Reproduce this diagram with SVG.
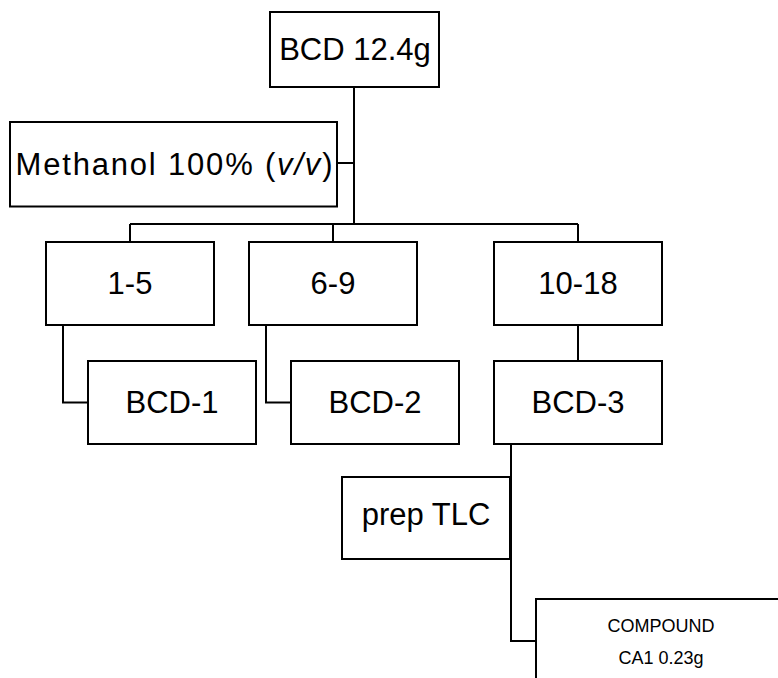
<svg xmlns="http://www.w3.org/2000/svg" width="778" height="678" viewBox="0 0 778 678">
  <style>
    .box { fill: #ffffff; stroke: #000000; stroke-width: 2; }
    .lbl { font-family: "Liberation Sans", Arial, sans-serif; font-size: 31px; fill: #000000; text-anchor: middle; }
    .small { font-family: "Liberation Sans", Arial, sans-serif; font-size: 18px; fill: #000000; text-anchor: middle; }
    .conn { fill: none; stroke: #000000; stroke-width: 2; }
  </style>
  <rect width="778" height="678" fill="#ffffff"/>
  <g id="connectors">
    <line class="conn" x1="354" y1="87" x2="354" y2="224" stroke-width="2.5"/>
    <line class="conn" x1="337" y1="163" x2="354" y2="163"/>
    <line class="conn" x1="130" y1="224" x2="578" y2="224"/>
    <line class="conn" x1="130" y1="224" x2="130" y2="242"/>
    <line class="conn" x1="333" y1="224" x2="333" y2="242"/>
    <line class="conn" x1="578" y1="224" x2="578" y2="242"/>
    <polyline class="conn" points="63,325 63,402.5 88,402.5"/>
    <polyline class="conn" points="266,325 266,402.5 291,402.5"/>
    <line class="conn" x1="578" y1="325" x2="578" y2="361"/>
    <polyline class="conn" points="511,444 511,641 536,641"/>
  </g>
  <g id="node-bcd">
    <rect class="box" x="270" y="12" width="169" height="75"/>
    <text class="lbl" x="355" y="60">BCD 12.4g</text>
  </g>
  <g id="node-methanol">
    <rect class="box" x="10" y="122" width="327" height="84.5"/>
    <text class="lbl" x="174" y="175" textLength="317" lengthAdjust="spacing">Methanol 100% (<tspan font-style="italic">v/v</tspan>)</text>
  </g>
  <g id="node-1-5">
    <rect class="box" x="46" y="242" width="168" height="83"/>
    <text class="lbl" x="130" y="294">1-5</text>
  </g>
  <g id="node-6-9">
    <rect class="box" x="249" y="242" width="168" height="83"/>
    <text class="lbl" x="333" y="294">6-9</text>
  </g>
  <g id="node-10-18">
    <rect class="box" x="494" y="242" width="168" height="83"/>
    <text class="lbl" x="578" y="294">10-18</text>
  </g>
  <g id="node-bcd-1">
    <rect class="box" x="88" y="361" width="168" height="83"/>
    <text class="lbl" x="172" y="413">BCD-1</text>
  </g>
  <g id="node-bcd-2">
    <rect class="box" x="291" y="361" width="168" height="83"/>
    <text class="lbl" x="375" y="413">BCD-2</text>
  </g>
  <g id="node-bcd-3">
    <rect class="box" x="494" y="361" width="168" height="83"/>
    <text class="lbl" x="578" y="413">BCD-3</text>
  </g>
  <g id="node-prep-tlc">
    <rect class="box" x="342" y="477" width="168" height="82"/>
    <text class="lbl" x="426" y="525">prep TLC</text>
  </g>
  <g id="node-compound">
    <rect class="box" x="536" y="599" width="260" height="100"/>
    <text class="small" x="661" y="632">COMPOUND</text>
    <text class="small" x="661" y="664">CA1 0.23g</text>
  </g>
</svg>
